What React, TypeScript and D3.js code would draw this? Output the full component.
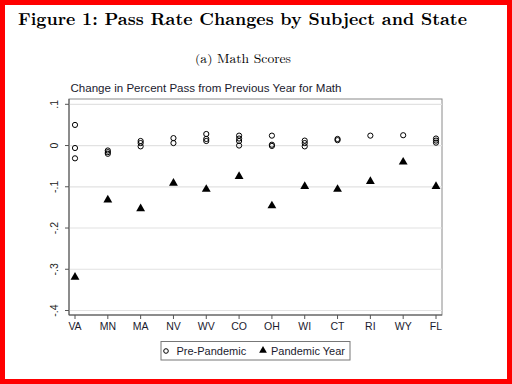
import * as d3 from "d3";

const states = ["VA", "MN", "MA", "NV", "WV", "CO", "OH", "WI", "CT", "RI", "WY", "FL"];

// pre-pandemic changes: several years per state
const prePandemic: [string, number][] = [
  ["VA", 0.05], ["VA", -0.006], ["VA", -0.031],
  ["MN", -0.012], ["MN", -0.016], ["MN", -0.02],
  ["MA", 0.011], ["MA", 0.006], ["MA", -0.002],
  ["NV", 0.018], ["NV", 0.006],
  ["WV", 0.028], ["WV", 0.016], ["WV", 0.011],
  ["CO", 0.024], ["CO", 0.017], ["CO", 0.011], ["CO", 0.0],
  ["OH", 0.024], ["OH", 0.002], ["OH", -0.001],
  ["WI", 0.012], ["WI", 0.006], ["WI", -0.002],
  ["CT", 0.016], ["CT", 0.013],
  ["RI", 0.024],
  ["WY", 0.025],
  ["FL", 0.017], ["FL", 0.012], ["FL", 0.007],
];

const pandemicYear = [-0.319, -0.132, -0.153, -0.091, -0.106, -0.075, -0.146, -0.099, -0.106, -0.087, -0.04, -0.099];

const yTicks = [0.1, 0, -0.1, -0.2, -0.3, -0.4];
const yTickLabels = [".1", "0", "-.1", "-.2", "-.3", "-.4"];

const W = 512, H = 384;
const plot = { left: 69, right: 442, top: 99, bottom: 315 };

export default function App() {
  const x = d3.scalePoint<string>()
    .domain(states)
    .range([75, 436]);
  const y = d3.scaleLinear()
    .domain([-0.4, 0.1])
    .range([310.5, 104.3]);

  const tri = d3.symbol().type(d3.symbolTriangle).size(34)() || "";
  const sans = "Arial, 'Liberation Sans', sans-serif";
  const serif = "'Latin Modern Roman', 'DejaVu Serif', 'Liberation Serif', serif";

  return (
    <svg width={W} height={H} style={{ position: "absolute", left: 0, top: 0 }}>
      <rect x={0} y={0} width={W} height={H} fill="#ff0000" />
      <rect x={5} y={5} width={W - 10} height={H - 10} fill="#ffffff" />

      <text x={18} y={25} fontFamily={serif} fontWeight="bold" fontSize={17}
        textLength={449} lengthAdjust="spacingAndGlyphs" fill="#000">
        Figure 1: Pass Rate Changes by Subject and State
      </text>
      <text x={243} y={63} textAnchor="middle" fontFamily={serif} fontSize={12.5}
        textLength={96} lengthAdjust="spacingAndGlyphs" fill="#000">
        (a) Math Scores
      </text>

      <text x={70.5} y={92} fontFamily={sans} fontSize={11.3} fill="#1a1a2e"
        textLength={271} lengthAdjust="spacingAndGlyphs">
        Change in Percent Pass from Previous Year for Math
      </text>

      {/* plot region */}
      <rect x={plot.left} y={plot.top} width={plot.right - plot.left} height={plot.bottom - plot.top}
        fill="#fff" stroke="#8a8a8a" strokeWidth={1} />
      {yTicks.map((t, i) => (
        <g key={"y" + i}>
          <line x1={plot.left} x2={plot.right} y1={y(t)} y2={y(t)} stroke="#e2e2e2" strokeWidth={1.2} />
          <line x1={plot.left - 4} x2={plot.left} y1={y(t)} y2={y(t)} stroke="#555" strokeWidth={1} />
          <text transform={`translate(${58},${y(t)}) rotate(-90)`} textAnchor="middle"
            fontFamily={sans} fontSize={10.5} fill="#222">{yTickLabels[i]}</text>
        </g>
      ))}
      {states.map(s => (
        <g key={"x" + s}>
          <line x1={x(s)} x2={x(s)} y1={plot.bottom} y2={plot.bottom + 4} stroke="#555" strokeWidth={1} />
          <text x={x(s)} y={plot.bottom + 15} textAnchor="middle" fontFamily={sans} fontSize={10.5} fill="#1a1a2e">{s}</text>
        </g>
      ))}
      <line x1={plot.left} x2={plot.left} y1={plot.top} y2={plot.bottom} stroke="#555" strokeWidth={1} />
      <line x1={plot.left} x2={plot.right} y1={plot.bottom} y2={plot.bottom} stroke="#555" strokeWidth={1} />

      {prePandemic.map(([s, v], i) => (
        <circle key={"c" + i} cx={x(s)} cy={y(v)} r={2.6} fill="none" stroke="#000" strokeWidth={1} />
      ))}
      {pandemicYear.map((v, i) => (
        <path key={"t" + i} d={tri} transform={`translate(${x(states[i])},${y(v)})`} fill="#000" />
      ))}

      {/* legend */}
      <rect x={161} y={341.5} width={189} height={18.5} fill="#fff" stroke="#777" strokeWidth={1} />
      <circle cx={166} cy={351} r={2.3} fill="none" stroke="#000" strokeWidth={1} />
      <text x={176.5} y={355} fontFamily={sans} fontSize={11} fill="#1a1a2e">Pre-Pandemic</text>
      <path d={d3.symbol().type(d3.symbolTriangle).size(26)() || ""} transform="translate(263,350.5)" fill="#000" />
      <text x={271} y={355} fontFamily={sans} fontSize={11} fill="#1a1a2e">Pandemic Year</text>
    </svg>
  );
}
